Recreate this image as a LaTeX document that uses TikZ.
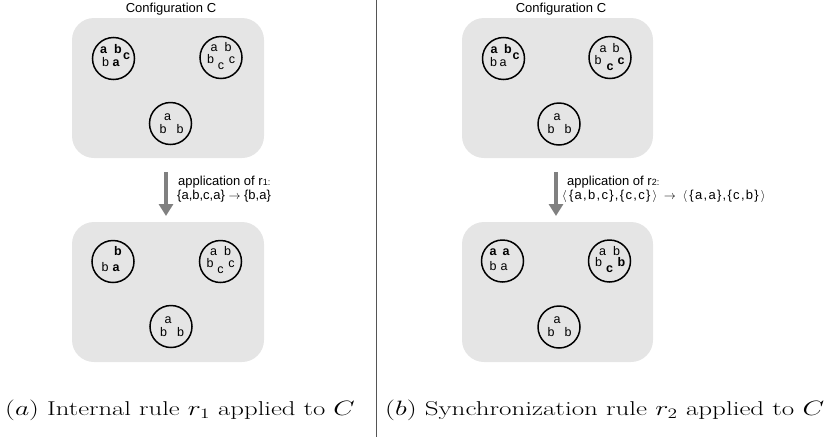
\documentclass[tikz,border=0pt]{standalone}
\usepackage{fontspec}
\newfontfamily\arial{Liberation Sans}
\usetikzlibrary{arrows.meta}
\definecolor{boxgrey}{HTML}{E5E5E5}
\definecolor{arrgrey}{HTML}{808080}
\definecolor{sepgrey}{HTML}{555555}
\begin{document}
\begin{tikzpicture}[x=1pt,y=-1pt,
  box/.style={fill=boxgrey, rounded corners=22pt},
  mol/.style={circle, draw=black, line width=1.5pt, minimum size=42pt, inner sep=0pt},
  ltr/.style={inner sep=0pt, anchor=base, font=\arial\fontsize{12.5}{13}\selectfont},
  ttl/.style={inner sep=0pt, anchor=base, font=\arial\fontsize{13}{14}\selectfont},
  lbl/.style={inner sep=0pt, anchor=base west, font=\arial\fontsize{13}{14}\selectfont},
  captext/.style={inner sep=0pt, anchor=base west, font=\fontsize{20}{22}\selectfont},
  bigarrow/.style={draw=arrgrey, line width=4pt, -{Triangle[width=14pt,length=12pt]}},
  sepline/.style={draw=sepgrey, line width=0.9pt}
]
\useasboundingbox (0,0) rectangle (832,445);

% separator
\coordinate (st) at (376,0);
\coordinate (sb) at (376,437);
\draw[sepline] (st) -- (sb);

% ---------------- left panel ----------------
\node[ttl] (tl) at (171,12) {Configuration C};
\path[box] (72,18) rectangle (264,158);
\path[box] (72,222) rectangle (264,362);

% top left circle 1
\begin{scope}[shift={(113.5,58.5)}]
  \node[mol] (LA1) at (0,0) {};
  \node[ltr] at (-10,-5) {\bfseries a};
  \node[ltr] at (4.5,-5) {\bfseries b};
  \node[ltr] at (13,0.5) {\bfseries c};
  \node[ltr] at (-8,7.5) {b};
  \node[ltr] at (2.5,7.5) {\bfseries a};
\end{scope}
% top left circle 2
\begin{scope}[shift={(221,57.5)}]
  \node[mol] (LA2) at (0,0) {};
  \node[ltr] at (-7,-6) {a};
  \node[ltr] at (7,-6) {b};
  \node[ltr] at (-10.5,5.5) {b};
  \node[ltr] at (0,12) {c};
  \node[ltr] at (11,5.5) {c};
\end{scope}
% top left circle 3
\begin{scope}[shift={(170.5,123.5)}]
  \node[mol] (LA3) at (0,0) {};
  \node[ltr] at (-3,-3.5) {a};
  \node[ltr] at (-7.5,9.5) {b};
  \node[ltr] at (9.5,9.5) {b};
\end{scope}

% arrow and label
\coordinate (la1) at (166,172);
\coordinate (la2) at (166,216);
\draw[bigarrow] (la1) -- (la2);
\node[lbl] (l1) at (178,185) {application of r\raisebox{-0.5pt}{\fontsize{9}{9}\selectfont 1:}};
\node[lbl] (l2) at (177,199) {\{a,b,c,a\} $\rightarrow$ \{b,a\}};

% bottom left circle 1
\begin{scope}[shift={(113,261.5)}]
  \node[mol] (LB1) at (0,0) {};
  \node[ltr] at (5,-6.5) {\bfseries b};
  \node[ltr] at (-8,9.5) {b};
  \node[ltr] at (3,9.5) {\bfseries a};
\end{scope}
% bottom left circle 2
\begin{scope}[shift={(220.5,261.5)}]
  \node[mol] (LB2) at (0,0) {};
  \node[ltr] at (-7,-6) {a};
  \node[ltr] at (7,-6) {b};
  \node[ltr] at (-10.5,5.5) {b};
  \node[ltr] at (0,12) {c};
  \node[ltr] at (11,5.5) {c};
\end{scope}
% bottom left circle 3
\begin{scope}[shift={(171,326.5)}]
  \node[mol] (LB3) at (0,0) {};
  \node[ltr] at (-3,-3.5) {a};
  \node[ltr] at (-7.5,9.5) {b};
  \node[ltr] at (9.5,9.5) {b};
\end{scope}

\node[captext] (capa) at (5,415) {\scalebox{1.335}[1]{$(a)$ Internal rule $r_1$ applied to $C$}};

% ---------------- right panel ----------------
\node[ttl] (tr) at (561,12) {Configuration C};
\path[box] (462,18) rectangle (653,158);
\path[box] (462,222) rectangle (653,362);

% top right circle 1
\begin{scope}[shift={(503.5,58.5)}]
  \node[mol] (RA1) at (0,0) {};
  \node[ltr] at (-9.5,-5) {\bfseries a};
  \node[ltr] at (4.5,-5) {\bfseries b};
  \node[ltr] at (12.5,1) {\bfseries c};
  \node[ltr] at (-10,8) {b};
  \node[ltr] at (-0.5,8) {a};
\end{scope}
% top right circle 2
\begin{scope}[shift={(610,57.5)}]
  \node[mol] (RA2) at (0,0) {};
  \node[ltr] at (-7,-5.5) {a};
  \node[ltr] at (6,-5.5) {b};
  \node[ltr] at (-12,6.5) {b};
  \node[ltr] at (0,12.5) {\bfseries c};
  \node[ltr] at (11,6.5) {\bfseries c};
\end{scope}
% top right circle 3
\begin{scope}[shift={(559,124)}]
  \node[mol] (RA3) at (0,0) {};
  \node[ltr] at (-2,-3.5) {a};
  \node[ltr] at (-8,9.5) {b};
  \node[ltr] at (9,9.5) {b};
\end{scope}

% arrow and label
\coordinate (ra1) at (556,172);
\coordinate (ra2) at (556,216);
\draw[bigarrow] (ra1) -- (ra2);
\node[lbl] (r1) at (567,185) {application of r\raisebox{-0.5pt}{\fontsize{9}{9}\selectfont 2:}};
\node[lbl] (r2) at (562,199) {\addfontfeature{LetterSpace=10}$\langle$\,\{a,b,c\},\{c,c\}\,$\rangle\;\rightarrow\;\langle$\,\{a,a\},\{c,b\}\,$\rangle$};

% bottom right circle 1
\begin{scope}[shift={(502.5,261)}]
  \node[mol] (RB1) at (0,0) {};
  \node[ltr] at (-9.5,-5.5) {\bfseries a};
  \node[ltr] at (3.5,-5.5) {\bfseries a};
  \node[ltr] at (-9.5,9.5) {b};
  \node[ltr] at (1.5,9.5) {a};
\end{scope}
% bottom right circle 2
\begin{scope}[shift={(609.5,261)}]
  \node[mol] (RB2) at (0,0) {};
  \node[ltr] at (-7,-6) {a};
  \node[ltr] at (7,-6) {b};
  \node[ltr] at (-11,5) {b};
  \node[ltr] at (0,11.5) {\bfseries c};
  \node[ltr] at (12,5.5) {\bfseries b};
\end{scope}
% bottom right circle 3
\begin{scope}[shift={(559,327)}]
  \node[mol] (RB3) at (0,0) {};
  \node[ltr] at (-2,-3.5) {a};
  \node[ltr] at (-8,9.5) {b};
  \node[ltr] at (9,9.5) {b};
\end{scope}

\node[captext] (capb) at (385,415) {\scalebox{1.35}[1]{$(b)$ Synchronization rule $r_2$ applied to $C$}};
\end{tikzpicture}
\end{document}
